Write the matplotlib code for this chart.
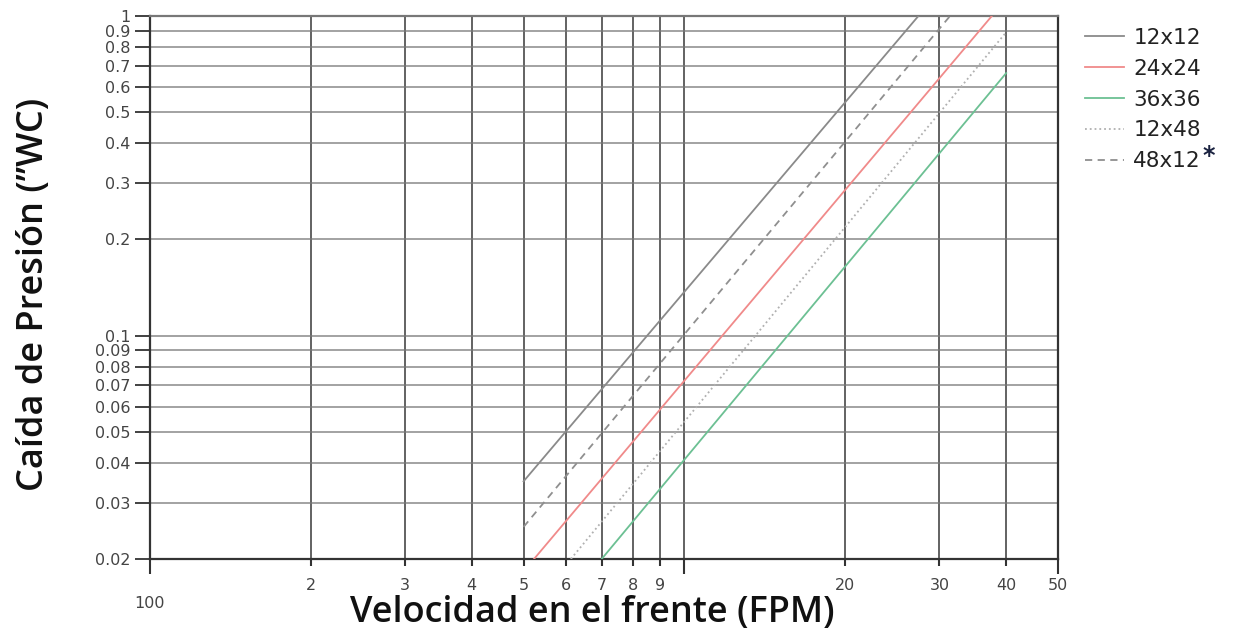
import matplotlib
matplotlib.use("Agg")
import matplotlib.pyplot as plt
from matplotlib.ticker import FixedLocator, FixedFormatter

# face velocity / pressure drop, end points of each (straight in log-log) curve
names = ["12x12", "24x24", "36x36", "12x48", "48x12"]
x_start = [5.0, 5.23, 7.0, 6.13, 5.0]
y_start = [0.035, 0.02, 0.02, 0.02, 0.0252]
x_end = [27.4, 37.6, 40.0, 40.0, 31.4]
y_end = [1.0, 1.0, 0.663, 0.89, 1.0]

colors = ["#8a8a8a", "#f08a8a", "#6cc093", "#b0b0b0", "#8f8f8f"]
styles = ["-", "-", "-", ":", (0, (4, 3))]

x_major = [1, 10, 50]
x_major_lbl = ["\n100", "", "50"]
x_minor = [2, 3, 4, 5, 6, 7, 8, 9, 20, 30, 40]
x_minor_lbl = ["2", "3", "4", "5", "6", "7", "8", "9", "20", "30", "40"]
y_ticks = [0.02, 0.03, 0.04, 0.05, 0.06, 0.07, 0.08, 0.09, 0.1,
           0.2, 0.3, 0.4, 0.5, 0.6, 0.7, 0.8, 0.9, 1]
y_lbl = ["0.02", "0.03", "0.04", "0.05", "0.06", "0.07", "0.08", "0.09", "0.1",
         "0.2", "0.3", "0.4", "0.5", "0.6", "0.7", "0.8", "0.9", "1"]

plt.rcParams['font.family'] = ['DejaVu Sans']

fig = plt.figure(figsize=(12.35, 6.36), dpi=100)
ax = fig.add_axes([150/1235, 1-559/636, 908/1235, 543/636])

ax.set_xscale("log")
ax.set_yscale("log")
ax.set_xlim(1, 50)
ax.set_ylim(0.02, 1)

for i in range(len(names)):
    ax.plot([x_start[i], x_end[i]], [y_start[i], y_end[i]], color=colors[i],
            linestyle=styles[i], lw=1.3, label=names[i], zorder=3)

ax.xaxis.set_major_locator(FixedLocator(x_major))
ax.xaxis.set_major_formatter(FixedFormatter(x_major_lbl))
ax.xaxis.set_minor_locator(FixedLocator(x_minor))
ax.xaxis.set_minor_formatter(FixedFormatter(x_minor_lbl))
ax.yaxis.set_major_locator(FixedLocator(y_ticks))
ax.yaxis.set_major_formatter(FixedFormatter(y_lbl))
ax.yaxis.set_minor_locator(FixedLocator([]))

ax.tick_params(axis="x", which="major", length=11, width=1.5, color="#333333",
               labelsize=11.5, labelcolor="#444444", pad=3)
ax.tick_params(axis="x", which="minor", length=5, width=1.5, color="#333333",
               labelsize=11.5, labelcolor="#444444", pad=9)
ax.tick_params(axis="y", length=11, width=1.3, color="#333333",
               labelsize=11.5, labelcolor="#444444", pad=3)

for x in x_major[1:-1] + x_minor:
    ax.axvline(x, color="#444444", lw=1.3, alpha=0.9, zorder=1)
for y in y_ticks[:-1]:
    ax.axhline(y, color="#777777", lw=1.2, alpha=0.8, zorder=1)

for s in ["left", "bottom", "right"]:
    ax.spines[s].set_color("#333333")
    ax.spines[s].set_linewidth(1.6)
ax.spines["top"].set_color("#777777")
ax.spines["top"].set_linewidth(1.6)

ax.set_xlabel("Velocidad en el frente (FPM)", fontsize=26, fontweight="semibold",
              family="Open Sans", color="#111111")
ax.xaxis.set_label_coords((592 - 150) / 908, -(613 - 559) / 543)
ax.xaxis.label.set_va("center")
ax.set_ylabel("Caída de Presión (”WC)", fontsize=26, fontweight="semibold",
              family="Open Sans", color="#111111")
ax.yaxis.set_label_coords(-(150 - 34) / 908, (559 - 294) / 543)
ax.yaxis.label.set_va("center")

leg = ax.legend(loc="upper left", bbox_to_anchor=(1085/1235, 1-28/636),
                bbox_transform=fig.transFigure, frameon=False,
                fontsize=15.5, handlelength=1.8, handletextpad=0.45,
                labelspacing=0.5, borderaxespad=0.0, borderpad=0.0)
for t in leg.get_texts():
    t.set_color("#222222")

fig.canvas.draw()
last = leg.get_texts()[-1].get_window_extent()
fig.text(last.x1 / 1235 + 0.001, last.y1 / 636 - 0.008, "*", fontsize=17,
         fontweight="bold", color="#1a2240", ha="left", va="center")

fig.savefig("out.png", dpi=100)
